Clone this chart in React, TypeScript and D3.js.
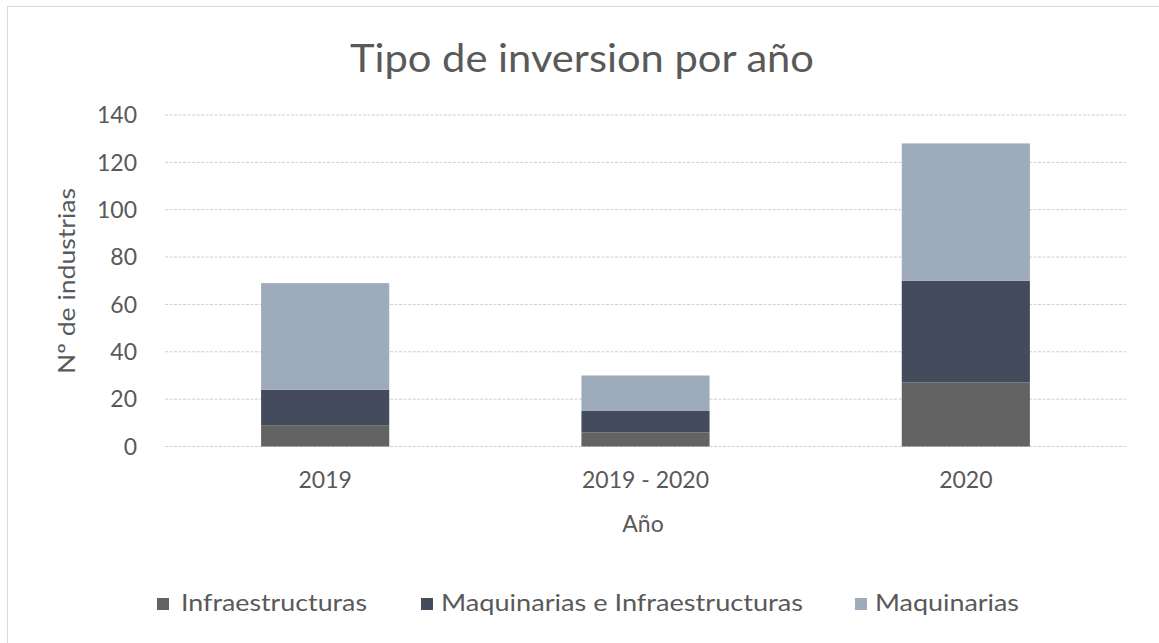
import * as d3 from 'd3';

const categories = ['2019', '2019 - 2020', '2020'];
const seriesNames = ['Infraestructuras', 'Maquinarias e Infraestructuras', 'Maquinarias'];
const infraestructuras = [9, 6, 27];
const maqInfra = [15, 9, 43];
const maquinarias = [45, 15, 58];
const yTicks = [0, 20, 40, 60, 80, 100, 120, 140];

const colors = ['#636363', '#434b5d', '#9dabbb'];
const W = 1159;
const H = 643;
const FONT = 'Lato, "Open Sans", sans-serif';
const TXT = '#595959';

export default function App() {
  const rows = categories.map((c, i) => ({
    cat: c,
    [seriesNames[0]]: infraestructuras[i],
    [seriesNames[1]]: maqInfra[i],
    [seriesNames[2]]: maquinarias[i],
  }));

  const x = d3.scaleBand<string>()
    .domain(categories)
    .range([165, 1126])
    .paddingInner(0.6)
    .paddingOuter(0.3);

  const y = d3.scaleLinear().domain([0, 140]).range([446.5, 115]);

  const stack = d3.stack<any>().keys(seriesNames);
  const layers = stack(rows);

  // legend positions (square x, text x, text width)
  const legend = [
    { sq: 157, tx: 181, tw: 186 },
    { sq: 421, tx: 441, tw: 362 },
    { sq: 855, tx: 875, tw: 144 },
  ];

  return (
    <svg width={W} height={H} style={{ position: 'absolute', left: 0, top: 0, background: '#fff' }}>
      <rect x={7.5} y={6.5} width={1250} height={700} fill="#fff" stroke="#d9d9d9" />

      <text x={582} y={72} textAnchor="middle" fontFamily={FONT} fontSize={38} fill={TXT}
        textLength={464} lengthAdjust="spacingAndGlyphs">
        Tipo de inversion por año
      </text>

      {/* grid */}
      {yTicks.map(t => (
        <line key={t} x1={165} x2={1126} y1={y(t)} y2={y(t)} stroke="#cfcfcf" strokeWidth={1} strokeDasharray="3,1.5" />
      ))}

      {/* y tick labels */}
      {yTicks.map(t => (
        <text key={'l' + t} x={137} y={y(t)} dy="0.36em" textAnchor="end" fontFamily={FONT} fontSize={23} fill={TXT}>
          {t}
        </text>
      ))}

      {/* bars */}
      {layers.map((layer, li) => (
        <g key={layer.key} fill={colors[li]}>
          {layer.map((d, i) => (
            <rect key={i} x={x(categories[i])} width={x.bandwidth()}
              y={y(d[1])} height={y(d[0]) - y(d[1])} />
          ))}
        </g>
      ))}

      {/* x labels */}
      {categories.map(c => (
        <text key={c} x={(x(c) as number) + x.bandwidth() / 2} y={488} textAnchor="middle"
          fontFamily={FONT} fontSize={23} fill={TXT}>
          {c}
        </text>
      ))}

      <text x={643} y={532} textAnchor="middle" fontFamily={FONT} fontSize={23} fill={TXT}>Año</text>

      <text transform="translate(75,281) rotate(-90)" textAnchor="middle" fontFamily={FONT} fontSize={23} fill={TXT}
        textLength={186} lengthAdjust="spacingAndGlyphs">
        Nº de industrias
      </text>

      {/* legend */}
      {seriesNames.map((s, i) => (
        <g key={s}>
          <rect x={legend[i].sq} y={598} width={12} height={12} fill={colors[i]} />
          <text x={legend[i].tx} y={611} fontFamily={FONT} fontSize={23} fill={TXT}
            textLength={legend[i].tw} lengthAdjust="spacingAndGlyphs">
            {s}
          </text>
        </g>
      ))}
    </svg>
  );
}
